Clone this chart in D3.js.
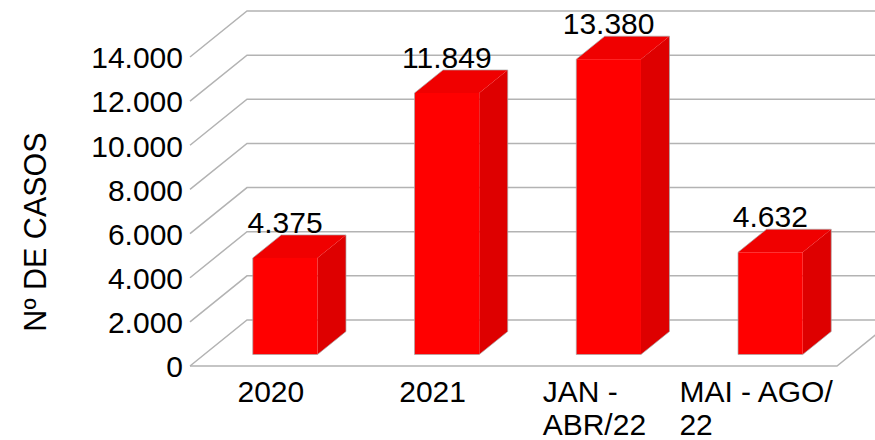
<!DOCTYPE html>
<html>
<head>
<meta charset="utf-8">
<script src="https://cdn.jsdelivr.net/npm/d3@7"></script>
<style>
  html, body { margin: 0; padding: 0; background: #fff; overflow: hidden; }
  text { font-family: "Liberation Sans", Arial, sans-serif; fill: #000; }
</style>
</head>
<body>
<svg id="chart" width="875" height="440"></svg>
<script>
const categories = ["2020", "2021", "JAN - ABR/22", "MAI - AGO/ 22"];
const categoryLines = [["2020"], ["2021"], ["JAN -", "ABR/22"], ["MAI - AGO/", "22"]];
const values = [4375, 11849, 13380, 4632];
const yTicks = [0, 2000, 4000, 6000, 8000, 10000, 12000, 14000];
const yTitle = "Nº DE CASOS";

const fontSize = 30;
// front edge of the floor, and how far the 3d depth pushes things back
const floorLeft = 190, floorRight = 837, floorY = 366, topY = 57;
const depthX = 57, depthY = 46;

const svg = d3.select("#chart");
const ptBr = d3.formatLocale({ decimal: ",", thousands: ".", grouping: [3], currency: ["R$", ""] });
const fmt = ptBr.format(",d");

const x = d3.scaleBand().domain(categories).range([floorLeft, floorRight]);
const y = d3.scaleLinear().domain([0, 14000]).range([floorY, topY]);
const barW = x.bandwidth() * 0.4;

// grid: diagonal on the left side wall + horizontal on the back wall
const grid = svg.append("g").attr("fill", "none").attr("stroke", "#b3b3b3").attr("stroke-width", 1.5);
grid.selectAll("path")
  .data(yTicks)
  .join("path")
  .attr("d", d => `M${floorLeft},${y(d)}L${floorLeft + depthX},${y(d) - depthY}L${floorRight + depthX},${y(d) - depthY}`);
// floor
grid.append("path")
  .attr("d", `M${floorLeft},${floorY}L${floorRight},${floorY}L${floorRight + depthX},${floorY - depthY}`);

// bars sit in the middle half of the depth
const d0x = depthX * 0.25, d0y = depthY * 0.25;
const d1x = depthX * 0.5, d1y = depthY * 0.5;

const bars = svg.append("g").selectAll("g")
  .data(categories.map((c, i) => ({ c, v: values[i] })))
  .join("g");

const barLeft = d => x(d.c) + (x.bandwidth() - barW) / 2 + d0x;
const barBottom = floorY - d0y;
const barTop = d => y(d.v) - d0y;

bars.append("path") // side
  .attr("fill", "#de0000")
  .attr("d", d => {
    const r = barLeft(d) + barW;
    return `M${r},${barTop(d)}L${r + d1x},${barTop(d) - d1y}L${r + d1x},${barBottom - d1y}L${r},${barBottom}Z`;
  });
bars.append("path") // top
  .attr("fill", "#f00000")
  .attr("d", d => {
    const l = barLeft(d), r = l + barW;
    return `M${l},${barTop(d)}L${l + d1x},${barTop(d) - d1y}L${r + d1x},${barTop(d) - d1y}L${r},${barTop(d)}Z`;
  });
bars.append("rect") // front
  .attr("fill", "#ff0000")
  .attr("x", barLeft)
  .attr("y", barTop)
  .attr("width", barW)
  .attr("height", d => barBottom - barTop(d));
// thin grey outline round the whole box, none between the faces
bars.append("path")
  .attr("fill", "none")
  .attr("stroke", "#a8a8a8")
  .attr("stroke-width", 0.7)
  .attr("stroke-linejoin", "round")
  .attr("d", d => {
    const l = barLeft(d), r = l + barW, t = barTop(d);
    return `M${l},${barBottom}L${l},${t}L${l + d1x},${t - d1y}L${r + d1x},${t - d1y}L${r + d1x},${barBottom - d1y}L${r},${barBottom}Z`;
  });

// value labels above the back of each bar
bars.append("text")
  .attr("font-size", fontSize)
  .attr("text-anchor", "middle")
  .attr("x", d => barLeft(d) + barW / 2)
  .attr("y", d => barTop(d) - d1y - 2)
  .text(d => fmt(d.v));

// y axis labels
const yAxis = d3.axisLeft(y).tickValues(yTicks).tickSize(0).tickPadding(0).tickFormat(fmt);
const yG = svg.append("g").attr("transform", `translate(${floorLeft - 7},0)`).call(yAxis);
yG.select(".domain").remove();
yG.attr("font-family", null).attr("font-size", null);
yG.selectAll("text")
  .attr("font-size", fontSize)
  .attr("dy", null)
  .attr("y", 10.8);

svg.append("text")
  .attr("font-size", 30.5)
  .attr("text-anchor", "middle")
  .attr("transform", "translate(45.5,232) rotate(-90)")
  .text(yTitle);

// category labels, wrapped, left aligned inside a centred block
const catLabels = svg.append("g").selectAll("text")
  .data(categories)
  .join("text")
  .attr("font-size", fontSize);
catLabels.each(function (c, i) {
  const t = d3.select(this);
  categoryLines[i].forEach((l, j) => {
    t.append("tspan").attr("y", 401.5 + j * 33.5).text(l);
  });
  const blockW = d3.max(t.selectAll("tspan").nodes(), n => n.getComputedTextLength());
  t.selectAll("tspan").attr("x", x(c) + x.bandwidth() / 2 - blockW / 2);
});
</script>
</body>
</html>
